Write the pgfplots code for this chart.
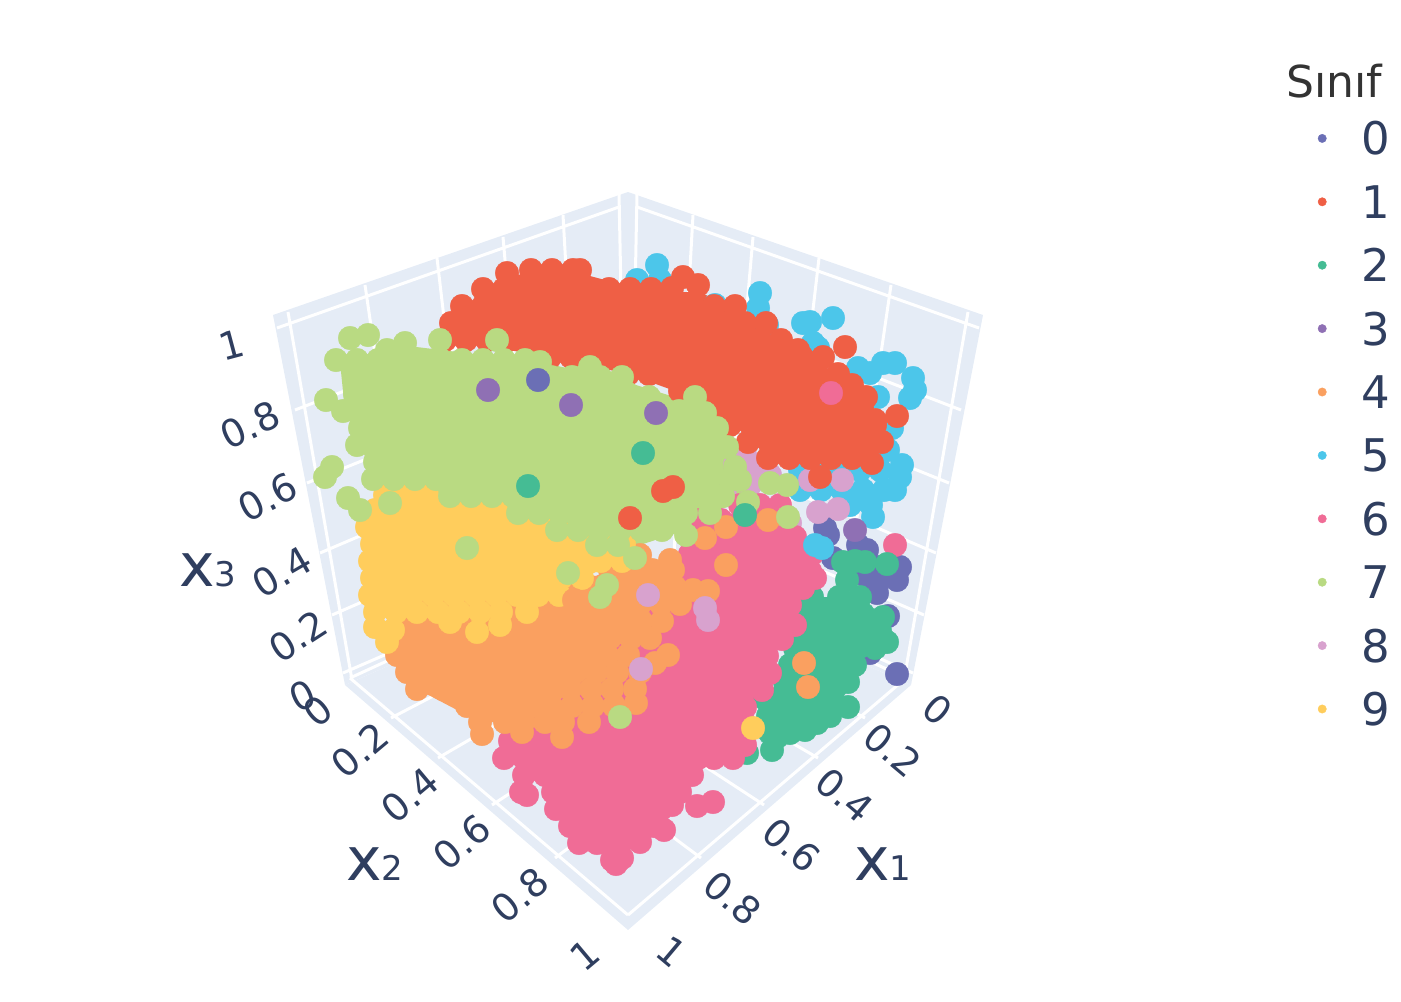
\documentclass[border=0pt]{standalone}
\usepackage{fontspec}
\setmainfont{DejaVu Sans}
\usepackage{pgfplots}
\pgfplotsset{compat=1.18}
\definecolor{cz}{HTML}{6B6FB5}
\definecolor{co}{HTML}{EF5F45}
\definecolor{ct}{HTML}{45BC94}
\definecolor{cd}{HTML}{8F70B4}
\definecolor{cf}{HTML}{FAA060}
\definecolor{cv}{HTML}{4CC6EA}
\definecolor{cs}{HTML}{F06C96}
\definecolor{cl}{HTML}{B9DA82}
\definecolor{ce}{HTML}{D8A2CE}
\definecolor{cn}{HTML}{FFCD5C}
\definecolor{pane}{HTML}{E5ECF6}
\definecolor{tick}{HTML}{2F3E5F}
\pgfplotsset{
 pts/.style={only marks, mark=*, mark size=5.9pt, color=#1, mark options={solid, draw=#1, fill=#1, line width=0.2pt}, forget plot},
 leg/.style={only marks, mark=*, mark size=2.1pt, color=#1, mark options={solid, draw=#1, fill=#1, line width=0.2pt}},
 hull/.style={fill=#1, draw=none, forget plot},
}
\newcommand{\tk}[4]{\node[text=tick,rotate=#4,inner sep=0pt] at (axis cs:#1,#2) {\fontsize{19}{19}\selectfont #3};}
\newcommand{\axl}[3]{\node[text=tick,inner sep=0pt] at (axis cs:#1,#2) {\fontsize{30}{30}\selectfont x\fontsize{17}{17}\selectfont #3};}
\begin{document}
\begin{tikzpicture}
\begin{axis}[
 width=700.5pt, height=500.5pt, scale only axis,
 xmin=0, xmax=1401, ymin=0, ymax=1001, y dir=reverse,
 hide axis, clip=false, unbounded coords=jump,
 legend cell align=left,
 legend style={at={(axis cs:1318,122)}, anchor=north west, draw=none, fill=none,
   inner sep=0pt, outer sep=0pt, font=\fontsize{22.5}{22.5}\selectfont, text=tick,
   nodes={inner sep=0pt, text height=16.4pt, text depth=0pt},
   /tikz/row sep=15.3pt, /tikz/column sep=17.5pt},
]
% panes
\addplot[fill=pane,draw=none,forget plot] coordinates {(273,315)(628,192)(628,560)(345,685)} --cycle;
\addplot[fill=pane,draw=none,forget plot] coordinates {(983,315)(628,192)(628,560)(911,685)} --cycle;
\addplot[fill=pane,draw=none,forget plot] coordinates {(345,685)(628,930)(911,685)(628,560)} --cycle;
% grid
\addplot[white,line width=1.5pt,forget plot] coordinates {
(277,328)(619,207)(nan,nan)(295,410)(622,284)(nan,nan)(307,483)(622,356)(nan,nan)(320,553)(622,424)(nan,nan)(332,615)(622,489)(nan,nan)(343,673)(622,552)(nan,nan)
(288,312)(352,680)(nan,nan)(365,285)(418,647)(nan,nan)(437,258)(479,619)(nan,nan)(503,237)(534,593)(nan,nan)(563,215)(583,571)(nan,nan)(619,193)(626,550)(nan,nan)
(979,328)(637,207)(nan,nan)(961,410)(634,284)(nan,nan)(949,483)(634,356)(nan,nan)(936,553)(634,424)(nan,nan)(924,615)(634,489)(nan,nan)(913,673)(634,552)(nan,nan)
(968,312)(904,680)(nan,nan)(891,285)(838,647)(nan,nan)(819,258)(777,619)(nan,nan)(753,237)(722,593)(nan,nan)(693,215)(673,571)(nan,nan)(637,193)(630,550)(nan,nan)
(350,678)(628,915)(nan,nan)(391,718)(673,571)(nan,nan)(438,758)(722,593)(nan,nan)(492,805)(777,619)(nan,nan)(555,858)(838,647)(nan,nan)(628,915)(906,678)(nan,nan)
(865,718)(583,571)(nan,nan)(818,758)(534,593)(nan,nan)(764,805)(479,619)(nan,nan)(701,858)(418,647)(nan,nan)(350,678)(628,550)(nan,nan)(906,678)(628,550)
};
% class 5, back
\addplot[pts=cv] coordinates {(657,265)(637,280)(660,280)(760,293)(758,308)(767,325)(715,305)(803,323)(810,322)(833,318)(813,343)(818,348)(858,368)(870,373)(883,363)(895,363)(913,378)(915,390)(910,398)(878,397)(892,428)(888,450)(902,465)(900,477)(895,490)(884,490)(863,490)(842,490)(821,490)(800,490)(850,505)(871,505)(873,517)(880,470)(860,470)(840,470)(820,470)(800,470)};
% class 0
\addplot[pts=cz] coordinates {(825,528)(828,535)(858,545)(867,550)(833,558)(900,567)(897,580)(880,567)(877,583)(877,593)(888,616)(870,653)(867,577)(850,570)(897,674)};
% class 2
\addplot[hull=ct] coordinates {(812,597)(860,597)(883,617)(880,645)(855,665)(848,690)(830,716)(805,730)(772,745)(765,699)(790,665)} --cycle;
\addplot[pts=ct] coordinates {(847,580)(843,562)(855,561)(865,562)
(812,597)(839,597)(860,597)(800,614)(821,614)(842,614)(863,614)(883,617)(800,631)(821,631)(842,631)(863,631)(880,631)(795,648)(816,648)(837,648)(858,648)(875,648)(887,642)
(790,665)(811,665)(832,665)(855,665)(785,682)(806,682)(827,682)(848,682)(765,699)(786,699)(807,699)(828,699)(848,707)(768,716)(789,716)(810,716)(830,716)(770,733)(790,733)(805,730)(817,723)(772,750)(777,737)(747,753)};
% class 8, back
\addplot[pts=ce] coordinates {(745,455)(755,465)(735,465)(750,485)(770,475)(725,490)(810,480)(842,480)(758,473)(790,523)};
% class 6
\addplot[hull=cs] coordinates {(700,520)(780,505)(795,537)(815,578)(800,605)(790,625)(770,660)(770,690)(745,720)(745,745)(692,775)(664,826)(618,858)(580,840)(553,792)(504,758)(515,724)(570,707)(650,622)(685,571)} --cycle;
\addplot[pts=cs] coordinates {(740,505)(760,505)(780,505)(700,520)(721,520)(742,520)(763,520)(784,520)
(690,537)(711,537)(732,537)(753,537)(774,537)(795,537)(690,554)(711,554)(732,554)(753,554)(774,554)(795,554)(812,554)
(685,571)(706,571)(727,571)(748,571)(769,571)(790,571)(810,571)(680,588)(701,588)(722,588)(743,588)(764,588)(785,588)(803,588)(815,578)
(670,605)(691,605)(712,605)(733,605)(754,605)(775,605)(790,605)(650,622)(671,622)(692,622)(713,622)(734,622)(755,622)(776,622)(795,625)
(635,639)(656,639)(677,639)(698,639)(719,639)(740,639)(761,639)(782,639)(620,656)(641,656)(662,656)(683,656)(704,656)(725,656)(746,656)(767,656)
(605,673)(626,673)(647,673)(668,673)(689,673)(710,673)(731,673)(752,673)(770,673)(590,690)(611,690)(632,690)(653,690)(674,690)(695,690)(716,690)(737,690)(762,690)
(570,707)(591,707)(612,707)(633,707)(654,707)(675,707)(696,707)(717,707)(738,707)(745,707)
(515,724)(536,724)(557,724)(578,724)(599,724)(620,724)(641,724)(662,724)(683,724)(704,724)(725,724)(745,724)
(510,741)(531,741)(552,741)(573,741)(594,741)(615,741)(636,741)(657,741)(678,741)(699,741)(720,741)(741,741)(745,745)
(504,758)(525,758)(546,758)(567,758)(588,758)(609,758)(630,758)(651,758)(672,758)(693,758)(714,758)(733,758)
(524,775)(545,775)(566,775)(587,775)(608,775)(629,775)(650,775)(671,775)(692,775)
(553,792)(574,792)(595,792)(616,792)(637,792)(658,792)(680,792)(556,809)(577,809)(598,809)(619,809)(640,809)(661,809)(672,805)
(570,826)(591,826)(612,826)(633,826)(654,826)(664,830)(579,843)(597,843)(618,843)(640,842)(612,860)(622,858)(616,864)
(527,795)(521,792)(697,806)(713,802)(895,545)};
% class 5, in front of 6
\addplot[pts=cv] coordinates {(815,545)(822,548)};
% class 1
\addplot[hull=co] coordinates {(460,310)(510,275)(575,272)(650,292)(700,292)(735,310)(800,352)(850,390)(875,425)(880,442)(868,458)(770,458)(735,425)(700,400)(628,374)(550,357)(450,340)} --cycle;
\addplot[pts=co] coordinates {(507,273)(531,270)(552,270)(573,270)(580,270)
(483,289)(504,289)(525,289)(546,289)(567,289)(588,289)(609,289)(630,289)(651,289)(672,288)(683,277)(698,285)
(462,306)(483,306)(504,306)(525,306)(546,306)(567,306)(588,306)(609,306)(630,306)(651,306)(672,306)(693,306)(714,306)(735,306)
(451,323)(472,323)(493,323)(514,323)(535,323)(556,323)(577,323)(598,323)(619,323)(640,323)(661,323)(682,323)(703,323)(724,323)(745,323)(766,323)
(445,340)(466,340)(487,340)(508,340)(529,340)(550,340)(571,340)(592,340)(613,340)(634,340)(655,340)(676,340)(697,340)(718,340)(739,340)(760,340)(781,340)(798,350)
(550,357)(571,357)(592,357)(613,357)(634,357)(655,357)(676,357)(697,357)(718,357)(739,357)(760,357)(781,357)(802,357)(823,357)
(628,374)(649,374)(670,374)(691,374)(712,374)(733,374)(754,374)(775,374)(796,374)(817,374)(838,374)(852,385)
(680,391)(701,391)(722,391)(743,391)(764,391)(785,391)(806,391)(827,391)(848,391)(866,397)
(715,408)(736,408)(757,408)(778,408)(799,408)(820,408)(841,408)(862,408)(875,420)
(730,425)(751,425)(772,425)(793,425)(814,425)(835,425)(856,425)(875,425)
(748,442)(769,442)(790,442)(811,442)(832,442)(853,442)(874,442)(882,442)
(768,458)(789,458)(810,458)(831,458)(852,458)(872,463)(820,477)(845,347)(897,416)};
% class 4
\addplot[hull=cf] coordinates {(640,557)(673,570)(708,591)(680,604)(650,638)(628,655)(640,672)(636,703)(589,722)(480,722)(417,689)(397,655)(410,621)(570,587)} --cycle;
\addplot[pts=cf] coordinates {(640,555)(670,560)(610,570)(631,570)(652,570)(673,570)(570,587)(591,587)(612,587)(633,587)(654,587)(675,587)(693,590)(708,591)
(430,604)(451,604)(472,604)(493,604)(514,604)(535,604)(556,604)(577,604)(598,604)(619,604)(640,604)(661,604)(680,604)
(410,621)(431,621)(452,621)(473,621)(494,621)(515,621)(536,621)(557,621)(578,621)(599,621)(620,621)(641,621)(662,621)
(400,638)(421,638)(442,638)(463,638)(484,638)(505,638)(526,638)(547,638)(568,638)(589,638)(610,638)(631,638)(650,638)
(397,655)(418,655)(439,655)(460,655)(481,655)(502,655)(523,655)(544,655)(565,655)(586,655)(607,655)(628,655)(655,663)(668,655)
(407,672)(428,672)(449,672)(470,672)(491,672)(512,672)(533,672)(554,672)(575,672)(596,672)(617,672)(640,672)
(417,689)(443,689)(465,689)(486,689)(507,689)(528,689)(549,689)(570,689)(591,689)(612,689)(635,689)
(467,706)(488,706)(509,706)(530,706)(551,706)(572,706)(593,706)(614,706)(636,703)
(480,722)(505,722)(523,722)(545,722)(563,722)(589,722)(482,734)(522,732)(562,737)
(726,565)(705,538)(726,527)(768,520)(804,663)(808,687)};
% class 9
\addplot[hull=cn] coordinates {(375,510)(427,495)(560,527)(624,544)(622,561)(582,578)(559,595)(527,612)(375,612)(370,561)} --cycle;
\addplot[pts=cn] coordinates {(385,495)(406,495)(427,495)(375,510)(396,510)(417,510)(438,510)(459,510)(480,510)(501,510)
(367,527)(388,527)(409,527)(430,527)(451,527)(472,527)(493,527)(514,527)(535,527)(556,527)
(372,544)(393,544)(414,544)(435,544)(456,544)(477,544)(498,544)(519,544)(540,544)(561,544)(582,544)(603,544)(624,544)
(370,561)(391,561)(412,561)(433,561)(454,561)(475,561)(496,561)(517,561)(538,561)(559,561)(580,561)(601,561)(622,561)
(372,578)(393,578)(414,578)(435,578)(456,578)(477,578)(498,578)(519,578)(540,578)(561,578)(582,578)
(370,595)(391,595)(412,595)(433,595)(454,595)(475,595)(496,595)(517,595)(538,595)(559,595)
(375,612)(396,612)(417,612)(438,612)(459,612)(480,612)(501,612)(527,612)(375,627)(387,642)(393,630)(450,622)(477,632)(500,625)(753,728)};
% class 7
\addplot[hull=cl] coordinates {(340,362)(400,345)(540,362)(620,380)(700,405)(725,445)(735,467)(745,500)(710,513)(686,530)(640,545)(600,535)(520,513)(450,496)(375,479)(360,445)(345,411)} --cycle;
\addplot[pts=cl] coordinates {(350,338)(368,335)(405,343)(387,350)(440,340)(497,340)
(336,360)(357,360)(378,360)(399,360)(420,360)(441,360)(462,360)(483,360)(504,360)(525,360)(540,362)
(362,377)(383,377)(404,377)(425,377)(446,377)(467,377)(488,377)(509,377)(530,377)(551,377)(572,377)(590,367)(622,377)(600,377)
(355,394)(376,394)(397,394)(418,394)(439,394)(460,394)(481,394)(502,394)(523,394)(544,394)(565,394)(586,394)(607,394)(628,394)(649,397)(326,400)
(343,411)(364,411)(385,411)(406,411)(427,411)(448,411)(469,411)(490,411)(511,411)(532,411)(553,411)(574,411)(595,411)(616,411)(637,411)(658,411)(679,411)(695,397)(705,413)
(360,428)(381,428)(402,428)(423,428)(444,428)(465,428)(486,428)(507,428)(528,428)(549,428)(570,428)(591,428)(612,428)(633,428)(654,428)(675,428)(696,428)(717,428)
(357,445)(378,445)(399,445)(420,445)(441,445)(462,445)(483,445)(504,445)(525,445)(546,445)(567,445)(588,445)(609,445)(630,445)(651,445)(672,445)(693,445)(714,445)(727,447)
(375,462)(396,462)(417,462)(438,462)(459,462)(480,462)(501,462)(522,462)(543,462)(564,462)(585,462)(606,462)(627,462)(648,462)(669,462)(690,462)(711,462)(735,467)
(373,479)(394,479)(415,479)(436,479)(457,479)(478,479)(499,479)(520,479)(541,479)(562,479)(583,479)(604,479)(625,479)(646,479)(667,479)(688,479)(709,479)(730,479)
(450,496)(471,496)(492,496)(513,496)(534,496)(555,496)(576,496)(597,496)(618,496)(639,496)(660,496)(681,496)(702,496)(723,496)(748,502)
(518,513)(539,513)(560,513)(581,513)(602,513)(623,513)(644,513)(665,513)(686,513)(710,513)
(557,530)(578,530)(599,530)(620,530)(641,530)(662,530)(686,535)(597,545)(618,545)(635,558)
(332,467)(325,477)(348,498)(360,510)(390,503)(467,548)(568,573)(607,585)(600,597)(620,717)(740,480)(770,483)(787,485)(788,517)};
% strays on top
\addplot[pts=cz] coordinates {(538,380)};
\addplot[pts=cd] coordinates {(488,390)(571,405)(656,413)(855,530)};
\addplot[pts=ct] coordinates {(643,453)(528,486)(745,515)(887,564)};
\addplot[pts=co] coordinates {(630,518)(663,491)(673,487)};
\addplot[pts=cs] coordinates {(831,393)};
\addplot[pts=ce] coordinates {(818,512)(838,509)(648,595)(705,608)(708,620)(641,669)};
\addplot[pts=cf] coordinates {(574,600)};
% legend
\addlegendimage{leg=cz}\addlegendentry{0}
\addlegendimage{leg=co}\addlegendentry{1}
\addlegendimage{leg=ct}\addlegendentry{2}
\addlegendimage{leg=cd}\addlegendentry{3}
\addlegendimage{leg=cf}\addlegendentry{4}
\addlegendimage{leg=cv}\addlegendentry{5}
\addlegendimage{leg=cs}\addlegendentry{6}
\addlegendimage{leg=cl}\addlegendentry{7}
\addlegendimage{leg=ce}\addlegendentry{8}
\addlegendimage{leg=cn}\addlegendentry{9}
% text
\node[text=black!80,inner sep=0pt] at (axis cs:1334,81) {\fontsize{22}{22}\selectfont Sınıf};
\tk{232}{345}{1}{15}\tk{250}{425}{0.8}{25}\tk{268}{497}{0.6}{28}\tk{282}{572}{0.4}{30}\tk{298}{636}{0.2}{33}\tk{303}{696}{0}{25}
\tk{318}{711}{0}{40}\tk{360}{750}{0.2}{40}\tk{410}{795}{0.4}{40}\tk{462}{842}{0.6}{40}\tk{520}{895}{0.8}{40}\tk{585}{955}{1}{40}
\tk{938}{710}{0}{-40}\tk{893}{750}{0.2}{-40}\tk{845}{795}{0.4}{-40}\tk{792}{845}{0.6}{-40}\tk{733}{898}{0.8}{-40}\tk{672}{952}{1}{-40}
\axl{208}{570}{3}\axl{375}{864}{2}\axl{883}{864}{1}
\path (axis cs:0,0) rectangle (axis cs:1401,1001);
\end{axis}
\end{tikzpicture}
\end{document}
